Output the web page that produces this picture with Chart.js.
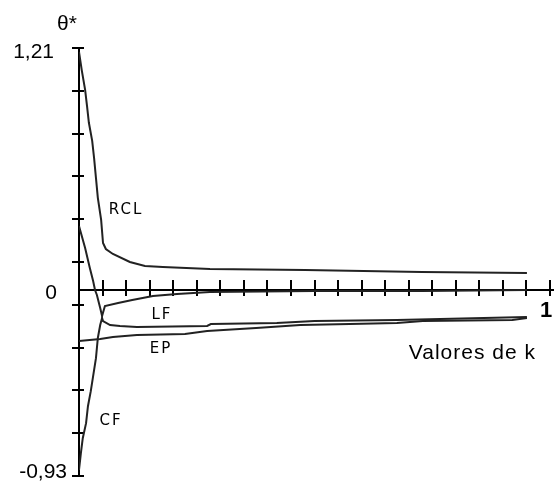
<!DOCTYPE html>
<html>
<head>
<meta charset="utf-8">
<script src="https://cdn.jsdelivr.net/npm/chart.js@4.4.0/dist/chart.umd.min.js"></script>
<style>
  html, body { margin: 0; padding: 0; background: #fff; }
  #wrap { width: 554px; height: 484px; position: relative; }
</style>
</head>
<body>
<div id="wrap"><canvas id="chart"></canvas></div>
<script>
// theta* against k for each curve
const rclK     = [0, 0.006, 0.013, 0.017, 0.021, 0.028, 0.032, 0.036, 0.040, 0.047, 0.051, 0.057, 0.072, 0.108, 0.140, 0.178, 0.278, 0.480, 0.728, 0.951];
const rclTheta = [1.19, 1.097, 1.001, 0.921, 0.836, 0.746, 0.661, 0.561, 0.461, 0.351, 0.235, 0.205, 0.180, 0.140, 0.120, 0.115, 0.105, 0.100, 0.090, 0.085];

const lfK      = [0, 0.013, 0.023, 0.030, 0.034, 0.038, 0.045, 0.049, 0.055, 0.083, 0.113, 0.157, 0.208, 0.278, 0.5, 0.73, 0.951];
const lfTheta  = [0.32, 0.21, 0.11, 0.045, 0, -0.025, -0.09, -0.13, -0.08, -0.065, -0.05, -0.03, -0.02, -0.01, -0.005, -0.005, 0];

const epK      = [0, 0.045, 0.072, 0.123, 0.225, 0.272, 0.376, 0.47, 0.575, 0.675, 0.73, 0.92, 0.951];
const epTheta  = [-0.255, -0.245, -0.235, -0.225, -0.22, -0.205, -0.19, -0.175, -0.17, -0.165, -0.155, -0.15, -0.14];

const cfK      = [0, 0.004, 0.008, 0.015, 0.019, 0.025, 0.030, 0.036, 0.040, 0.045, 0.049, 0.051, 0.066, 0.087, 0.123, 0.272, 0.28, 0.42, 0.5, 0.675, 0.951];
const cfTheta  = [-0.90, -0.816, -0.741, -0.666, -0.581, -0.506, -0.431, -0.341, -0.24, -0.175, -0.14, -0.155, -0.175, -0.18, -0.185, -0.18, -0.17, -0.165, -0.155, -0.15, -0.135];

const curveNames = ['RCL', 'LF', 'EP', 'CF'];
const yMin = -0.93;
const yMax = 1.21;
const yTickLabels = ['1,21', '0', '-0,93'];
const xTickCount = 20;
const yTickCount = 10;

function pts(ks, vs) {
    return ks.map((k, i) => ({ x: k, y: vs[i] }));
}

const series = [pts(rclK, rclTheta), pts(lfK, lfTheta), pts(epK, epTheta), pts(cfK, cfTheta)];

// axes through the origin, with ticks crossing the lines
const axesPlugin = {
    id: 'axes',
    beforeDatasetsDraw(chart) {
        const { ctx, scales: { x, y } } = chart;
        const x0 = x.getPixelForValue(0);
        const y0 = y.getPixelForValue(0);
        const yTop = y.getPixelForValue(yMax);
        const yBot = y.getPixelForValue(yMin);
        const xEnd = x.getPixelForValue(1);
        ctx.save();
        ctx.strokeStyle = '#000';
        ctx.lineWidth = 2;
        ctx.beginPath();
        ctx.moveTo(x0, yTop);
        ctx.lineTo(x0, yBot);
        ctx.moveTo(x0, y0);
        ctx.lineTo(xEnd + 4, y0);
        for (let i = 0; i <= yTickCount; i++) {
            const py = Math.round(y.getPixelForValue(yMax - i * (yMax - yMin) / yTickCount));
            ctx.moveTo(x0 - 7, py);
            ctx.lineTo(x0 + 5, py);
        }
        for (let i = 1; i <= xTickCount; i++) {
            const px = Math.round(x.getPixelForValue(i / xTickCount));
            ctx.moveTo(px, y0 - 10);
            ctx.lineTo(px, y0 + 6);
        }
        ctx.stroke();
        ctx.restore();
    },
    afterDatasetsDraw(chart) {
        const { ctx, scales: { x, y } } = chart;
        const x0 = x.getPixelForValue(0);
        const y0 = y.getPixelForValue(0);
        const yTop = y.getPixelForValue(yMax);
        const yBot = y.getPixelForValue(yMin);
        const xEnd = x.getPixelForValue(1);
        ctx.save();
        ctx.fillStyle = '#000';
        ctx.font = '21px "Liberation Sans", Arial, sans-serif';
        ctx.textBaseline = 'middle';
        ctx.textAlign = 'right';
        ctx.fillText(yTickLabels[0], x0 - 25, yTop + 4);
        ctx.fillText(yTickLabels[1], x0 - 22, y0 + 3);
        ctx.fillText(yTickLabels[2], x0 - 12, yBot - 4);
        ctx.textAlign = 'center';
        ctx.fillText('θ*', x0 - 12, yTop - 24);
        ctx.textAlign = 'right';
        ctx.textBaseline = 'alphabetic';
        ctx.letterSpacing = '1px';
        ctx.fillText('Valores de k', xEnd - 14, y0 + 69);
        ctx.letterSpacing = '0px';
        ctx.font = 'bold 22px "Liberation Sans", Arial, sans-serif';
        ctx.textAlign = 'center';
        ctx.textBaseline = 'middle';
        ctx.fillText('1', xEnd - 4, y0 + 21);

        // curve names
        const anchors = [[0.10, 0.40], [0.176, -0.125], [0.174, -0.295], [0.068, -0.656]];
        ctx.font = '15px "DejaVu Sans", sans-serif';
        ctx.letterSpacing = '2px';
        ctx.textAlign = 'center';
        curveNames.forEach((name, i) => {
            ctx.fillText(name, x.getPixelForValue(anchors[i][0]), y.getPixelForValue(anchors[i][1]));
        });
        ctx.restore();
    }
};

new Chart(document.getElementById('chart'), {
    type: 'line',
    data: {
        datasets: series.map((data, i) => ({
            label: curveNames[i],
            data: data,
            borderColor: '#222',
            borderWidth: 2,
            pointRadius: 0,
            tension: 0,
            fill: false
        }))
    },
    options: {
        responsive: true,
        maintainAspectRatio: false,
        animation: false,
        layout: { padding: { left: 79, right: 4, top: 48, bottom: 8 } },
        plugins: { legend: { display: false }, tooltip: { enabled: false } },
        scales: {
            x: { type: 'linear', min: 0, max: 1, display: false },
            y: { type: 'linear', min: yMin, max: yMax, display: false }
        }
    },
    plugins: [axesPlugin]
});
</script>
</body>
</html>
